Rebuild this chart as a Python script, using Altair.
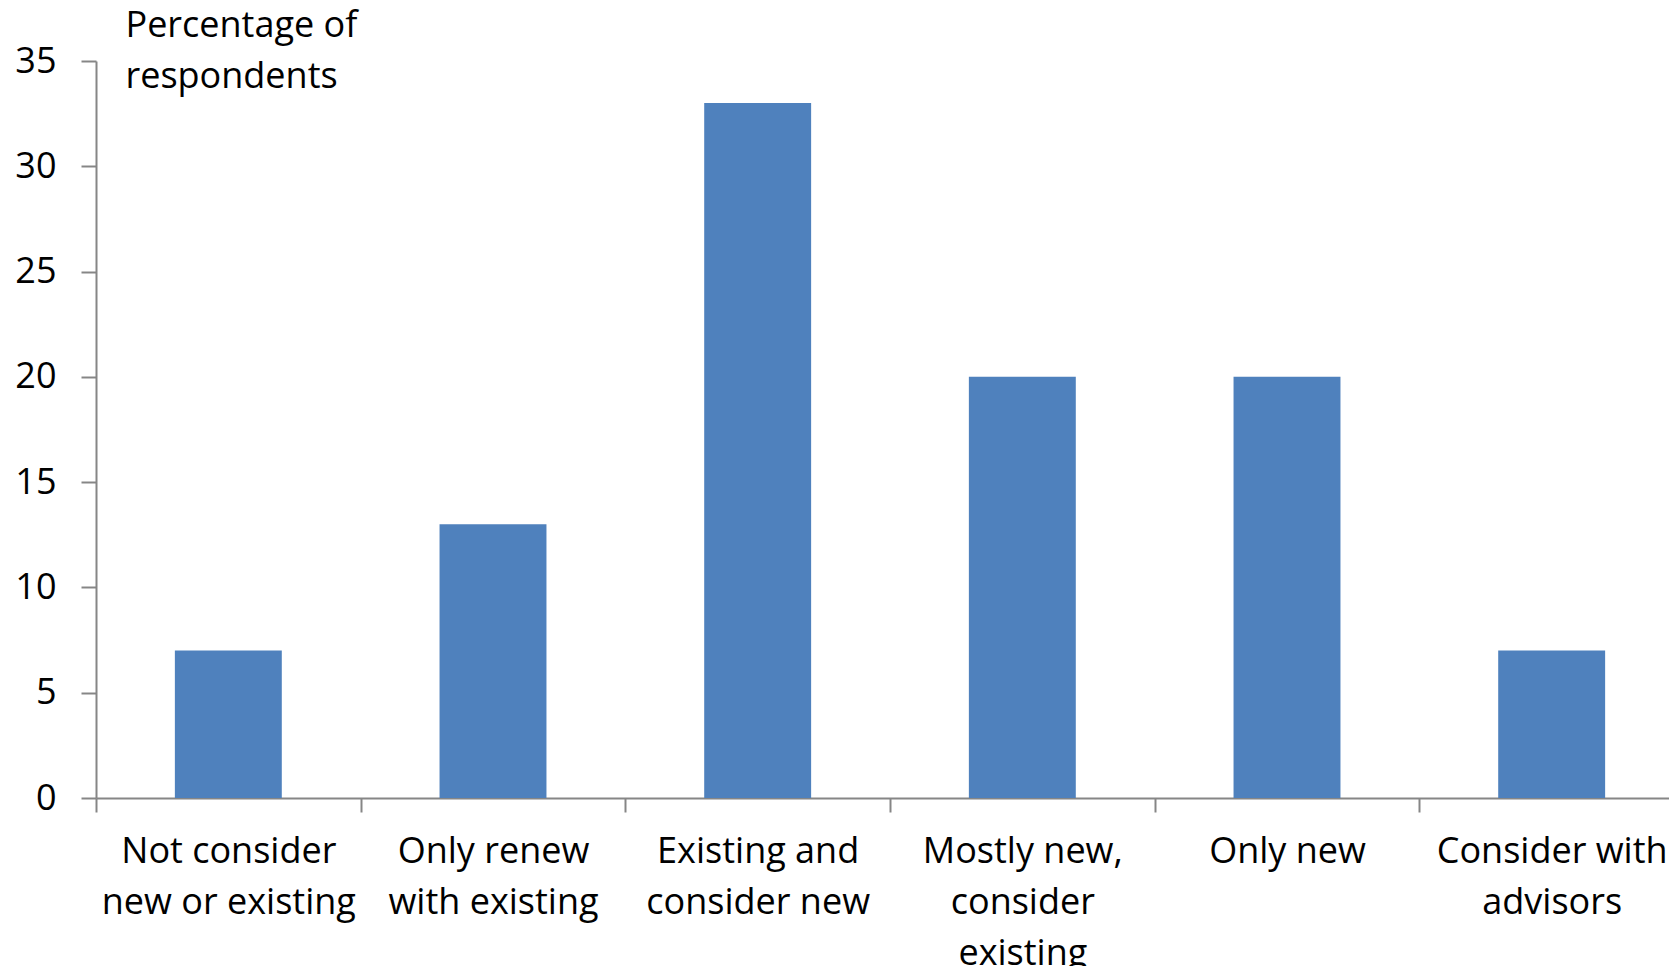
import altair as alt
import pandas as pd

categories = [
    "Not consider new or existing",
    "Only renew with existing",
    "Existing and consider new",
    "Mostly new, consider existing",
    "Only new",
    "Consider with advisors",
]
label_lines = [
    "Not consider|new or existing",
    "Only renew|with existing",
    "Existing and|consider new",
    "Mostly new,|consider|existing",
    "Only new",
    "Consider with|advisors",
]
values = [7, 13, 33, 20, 20, 7]
y_ticks = [0, 5, 10, 15, 20, 25, 30, 35]
y_title = ["Percentage of", "respondents"]

df = pd.DataFrame({"cat": label_lines, "value": values})

FONT = "Open Sans"
FS = 36

chart = (
    alt.Chart(df)
    .mark_bar(color="#4F81BD", width=alt.RelativeBandSize(0.404))
    .encode(
        x=alt.X(
            "cat:N",
            sort=label_lines,
            scale=alt.Scale(paddingInner=0, paddingOuter=0, range=[0, 1588]),
            axis=alt.Axis(
                title=None,
                labelAngle=0,
                labelExpr="split(datum.label, '|')",
                labelFont=FONT,
                labelFontSize=FS,
                labelColor="#000000",
                labelLineHeight=51,
                labelPadding=22,
                labelLimit=400,
                tickBand="extent",
                tickSize=14,
                tickColor="#868686",
                tickWidth=2,
                domainColor="#868686",
                domainWidth=2,
            ),
        ),
        y=alt.Y(
            "value:Q",
            scale=alt.Scale(domain=[0, 35], nice=False),
            axis=alt.Axis(
                values=y_ticks,
                title=y_title,
                titleAngle=0,
                titleAlign="left",
                titleBaseline="top",
                titleX=29,
                titleY=-53,
                titleFont=FONT,
                titleFontSize=FS,
                titleFontWeight="normal",
                titleColor="#000000",
                titleLineHeight=51,
                labelFont=FONT,
                labelFontSize=FS,
                labelColor="#000000",
                labelPadding=25,
                tickSize=15,
                tickColor="#868686",
                tickWidth=2,
                domainColor="#868686",
                domainWidth=2,
                grid=False,
            ),
        ),
    )
    .properties(
        width=1573,
        height=737,
        autosize=alt.AutoSizeParams(type="none"),
        padding={"left": 88, "top": 53, "right": 0, "bottom": 168},
        background="#ffffff",
    )
    .configure_view(stroke=None)
)

chart.save("out.html", embed_options={"renderer": "svg", "actions": False})
